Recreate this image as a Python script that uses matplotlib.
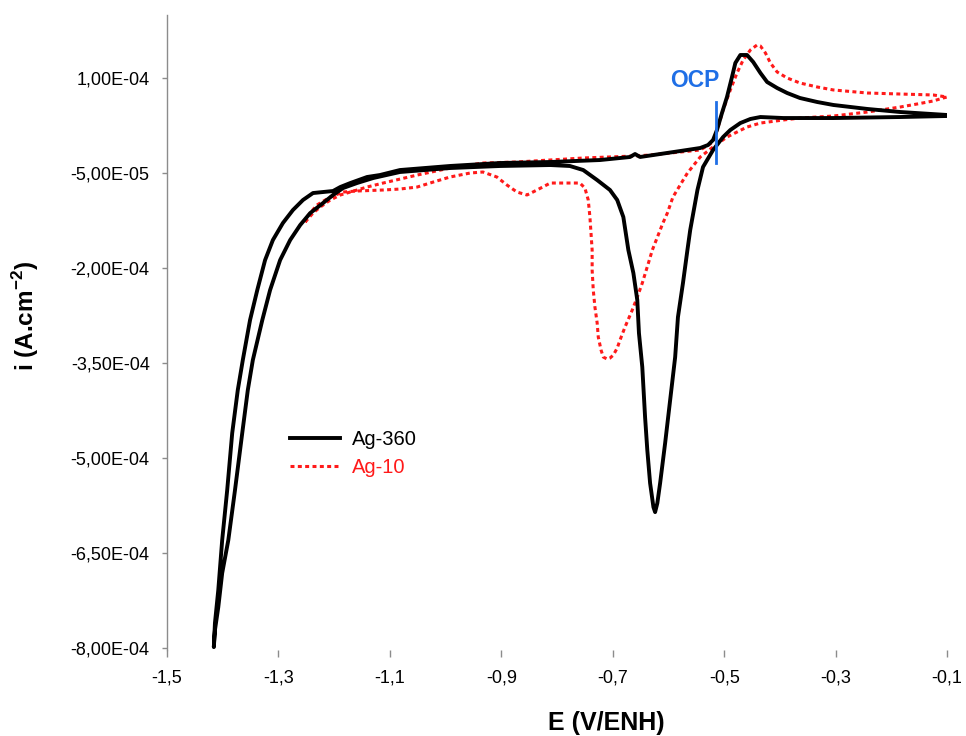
import numpy as np
import matplotlib
matplotlib.use("Agg")
import matplotlib.pyplot as plt
from matplotlib.ticker import FuncFormatter, FixedLocator

plt.rcParams['font.family'] = ['Liberation Sans', 'DejaVu Sans']
plt.rcParams['mathtext.fontset'] = 'custom'
plt.rcParams['mathtext.rm'] = 'Liberation Sans'
plt.rcParams['mathtext.bf'] = 'Liberation Sans:bold'

# Ag-360 : potential (V/ENH) and current density (x 1e-4 A.cm-2)
E_ag360 = [-0.100, -0.184, -0.304, -0.394, -0.435, -0.453, -0.471, -0.489, -0.502, -0.520,
           -0.538, -0.548, -0.561, -0.566, -0.574, -0.583, -0.588, -0.597, -0.606, -0.615,
           -0.620, -0.624, -0.627, -0.633, -0.638, -0.642, -0.647, -0.653, -0.656, -0.663,
           -0.672, -0.681, -0.692, -0.705, -0.728, -0.753, -0.777, -0.812, -0.902, -0.992,
           -1.082, -1.130, -1.159, -1.184, -1.202, -1.220, -1.243, -1.261, -1.279, -1.297,
           -1.315, -1.329, -1.346, -1.355, -1.365, -1.378, -1.390, -1.401, -1.408, -1.414,
           -1.416,
           -1.414, -1.408, -1.401, -1.392, -1.383, -1.373, -1.364, -1.351, -1.338, -1.324,
           -1.310, -1.292, -1.274, -1.256, -1.238, -1.220, -1.202, -1.189, -1.171, -1.141,
           -1.118, -1.082, -0.992, -0.902, -0.812, -0.723, -0.669, -0.660, -0.651, -0.579,
           -0.543, -0.529, -0.520, -0.513, -0.504, -0.495, -0.486, -0.480, -0.471, -0.459,
           -0.448, -0.435, -0.423, -0.405, -0.387, -0.364, -0.333, -0.304, -0.243, -0.184,
           -0.100]
i_ag360 = [0.400, 0.384, 0.368, 0.368, 0.384, 0.353, 0.289, 0.179, 0.068, -0.137,
           -0.405, -0.768, -1.400, -1.716, -2.237, -2.774, -3.405, -4.084, -4.763, -5.395,
           -5.711, -5.853, -5.774, -5.395, -4.874, -4.353, -3.563, -3.026, -2.505, -2.079,
           -1.716, -1.195, -0.926, -0.768, -0.611, -0.453, -0.389, -0.374, -0.389, -0.421,
           -0.484, -0.579, -0.658, -0.737, -0.847, -0.974, -1.132, -1.321, -1.558, -1.874,
           -2.347, -2.821, -3.453, -3.926, -4.605, -5.505, -6.295, -6.816, -7.353, -7.716,
           -7.984,
           -7.605, -7.084, -6.295, -5.505, -4.605, -3.926, -3.453, -2.821, -2.347, -1.874,
           -1.558, -1.289, -1.084, -0.926, -0.816, -0.800, -0.784, -0.721, -0.658, -0.563,
           -0.532, -0.453, -0.389, -0.342, -0.326, -0.295, -0.247, -0.200, -0.247, -0.153,
           -0.105, -0.058, 0.021, 0.179, 0.447, 0.700, 1.016, 1.237, 1.363, 1.363,
           1.253, 1.079, 0.937, 0.842, 0.763, 0.684, 0.621, 0.574, 0.511, 0.463,
           0.416]

# Ag-10
E_ag10 = [-1.252, -1.238, -1.225, -1.207, -1.189, -1.171, -1.141, -1.112, -1.051, -0.992,
          -0.933, -0.872, -0.753, -0.663, -0.633, -0.543, -0.520, -0.511, -0.502, -0.489,
          -0.477, -0.466, -0.453, -0.441, -0.435, -0.426, -0.417, -0.405, -0.387, -0.364,
          -0.333, -0.304, -0.243, -0.184, -0.125, -0.100,
          -0.107, -0.125, -0.154, -0.184, -0.243, -0.304, -0.364, -0.394, -0.435, -0.459,
          -0.477, -0.495, -0.520, -0.543, -0.566, -0.579, -0.592, -0.602, -0.610, -0.629,
          -0.636, -0.647, -0.656, -0.665, -0.678, -0.687, -0.692, -0.699, -0.705, -0.710,
          -0.717, -0.721, -0.726, -0.728, -0.732, -0.735, -0.737, -0.737, -0.741, -0.744,
          -0.750, -0.759, -0.782, -0.812, -0.836, -0.854, -0.872, -0.890, -0.908, -0.933,
          -0.956, -0.992, -1.022, -1.051, -1.082, -1.112, -1.159, -1.184, -1.207, -1.231,
          -1.249, -1.252]
i_ag10 = [-1.274, -1.132, -1.037, -0.926, -0.847, -0.800, -0.721, -0.658, -0.532, -0.421,
          -0.342, -0.326, -0.263, -0.232, -0.216, -0.137, -0.011, 0.226, 0.495, 0.811,
          1.079, 1.284, 1.442, 1.521, 1.505, 1.395, 1.237, 1.095, 1.000, 0.921,
          0.858, 0.811, 0.763, 0.747, 0.732, 0.700,
          0.684, 0.637, 0.589, 0.542, 0.463, 0.400, 0.368, 0.337, 0.289, 0.226,
          0.147, 0.068, -0.089, -0.247, -0.500, -0.689, -0.879, -1.132, -1.289, -1.716,
          -1.921, -2.237, -2.458, -2.663, -2.931, -3.137, -3.263, -3.374, -3.421, -3.437,
          -3.405, -3.295, -3.089, -2.868, -2.616, -2.347, -2.032, -1.716, -1.195, -0.926,
          -0.737, -0.658, -0.658, -0.658, -0.768, -0.847, -0.800, -0.689, -0.563, -0.484,
          -0.500, -0.563, -0.642, -0.721, -0.753, -0.768, -0.784, -0.800, -0.879, -1.005,
          -1.195, -1.274]

E_ocp = -0.514
i_ocp = [-0.342, 0.621]
ocp_label_pos = (-0.552, 0.953)

x_ticks = [-1.5, -1.3, -1.1, -0.9, -0.7, -0.5, -0.3, -0.1]
y_ticks = [-8.0e-4, -6.5e-4, -5.0e-4, -3.5e-4, -2.0e-4, -5.0e-5, 1.0e-4]

scale = 1e-4
red = '#ff1a1a'
ocp_blue = '#1f6fe6'

fig = plt.figure(figsize=(9.66, 7.36), dpi=100)
ax = fig.add_axes([0.1729, 0.1168, 0.8075, 0.8633])

ax.plot(E_ag10, np.array(i_ag10) * scale, color=red, lw=2.2,
        linestyle=(0, (1.3, 1.1)), dash_capstyle='butt', label='Ag-10', zorder=2)
ax.plot(E_ag360, np.array(i_ag360) * scale, color='black', lw=2.8,
        solid_joinstyle='round', label='Ag-360', zorder=3)

ax.plot([E_ocp, E_ocp], np.array(i_ocp) * scale, color=ocp_blue, lw=2, zorder=4)
ax.text(ocp_label_pos[0], ocp_label_pos[1] * scale, 'OCP', color=ocp_blue,
        fontsize=16.5, fontweight='bold', ha='center', va='center')

ax.set_xlim(-1.5, -0.1)
ax.set_ylim(-8.03e-4, 2e-4)
ax.xaxis.set_major_locator(FixedLocator(x_ticks))
ax.yaxis.set_major_locator(FixedLocator(y_ticks))
ax.xaxis.set_major_formatter(FuncFormatter(lambda v, p: f"{v:.1f}".replace('.', ',')))
ax.yaxis.set_major_formatter(FuncFormatter(lambda v, p: f"{v:.2E}".replace('.', ',')))

for s in ['top', 'right', 'bottom']:
    ax.spines[s].set_visible(False)
ax.spines['left'].set_color('#8c8c8c')
ax.spines['left'].set_linewidth(1.0)
ax.tick_params(axis='x', direction='out', length=5, width=1, color='#8c8c8c',
               labelsize=13, pad=9)
ax.tick_params(axis='y', direction='out', length=3.5, width=1, color='#8c8c8c',
               labelsize=13, pad=9)

ax.set_xlabel('E (V/ENH)', fontsize=18, fontweight='bold')
ax.xaxis.set_label_coords(0.563, -0.096)
ax.set_ylabel(r'i (A.cm$^{\mathbf{-2}}$)', fontsize=17.5, fontweight='bold')
ax.yaxis.set_label_coords(-0.162, 0.526)

h, l = ax.get_legend_handles_labels()
leg = ax.legend(h[::-1], l[::-1], loc='upper left', bbox_to_anchor=(0.300, 0.4153),
                bbox_transform=fig.transFigure, frameon=False, fontsize=14.5,
                handlelength=2.5, handletextpad=0.6, labelspacing=0.45,
                borderpad=0, borderaxespad=0)
for txt, c in zip(leg.get_texts(), ['black', red]):
    txt.set_color(c)

fig.savefig('out.png', dpi=100)
